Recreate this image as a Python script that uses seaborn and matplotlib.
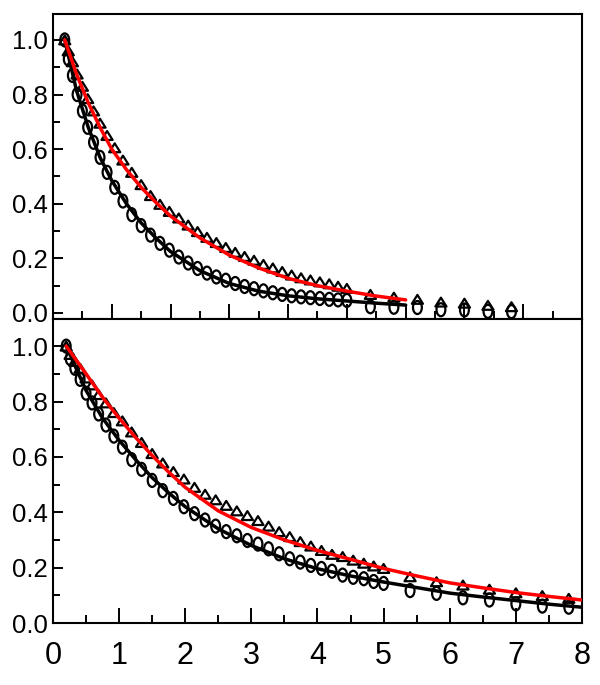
import numpy as np
import pandas as pd
import matplotlib
matplotlib.use('Agg')
import matplotlib.pyplot as plt
from matplotlib.path import Path
from matplotlib.ticker import MultipleLocator, FormatStrFormatter
import seaborn as sns

# sampling times shared by all four data series
x_data = [0.2, 0.26, 0.33, 0.41, 0.5, 0.59, 0.69, 0.8, 0.92, 1.05, 1.19, 1.34, 1.5,
          1.66, 1.82, 1.98, 2.14, 2.30, 2.46, 2.62, 2.78, 2.94, 3.10, 3.26, 3.42,
          3.58, 3.74, 3.90, 4.06, 4.22, 4.38, 4.54, 4.70, 4.85, 5.0,
          5.4, 5.8, 6.2, 6.6, 7.0, 7.4, 7.8]

# top panel
top_circles = [1.0, 0.93, 0.87, 0.80, 0.74, 0.68, 0.625, 0.57, 0.515, 0.46, 0.41, 0.36, 0.32,
               0.285, 0.255, 0.23, 0.205, 0.183, 0.163, 0.146, 0.132, 0.12, 0.108, 0.097, 0.089,
               0.081, 0.074, 0.068, 0.063, 0.059, 0.056, 0.053, 0.05, 0.048, 0.046,
               0.023, 0.021, 0.02, 0.012, 0.011, 0.006, 0.005]
top_triangles = [1.0, 0.96, 0.92, 0.875, 0.83, 0.785, 0.74, 0.695, 0.65, 0.605, 0.56, 0.515, 0.47,
                 0.43, 0.398, 0.372, 0.348, 0.322, 0.298, 0.277, 0.258, 0.24, 0.222, 0.207, 0.193,
                 0.178, 0.165, 0.152, 0.139, 0.129, 0.121, 0.114, 0.107, 0.098, 0.09,
                 0.068, 0.058, 0.05, 0.04, 0.036, 0.028, 0.023]

x_fit_top = [0.2, 0.4, 0.6, 0.8, 1.0, 1.25, 1.5, 1.75, 2.0, 2.5, 3.0, 3.5, 4.0, 4.5, 5.0, 5.5, 6.0]
top_fit_red = [1.0, 0.875, 0.77, 0.68, 0.60, 0.525, 0.46, 0.405, 0.355, 0.275, 0.212, 0.165,
               0.127, 0.10, 0.08, 0.062, 0.048]
top_fit_black = [1.0, 0.815, 0.68, 0.57, 0.485, 0.40, 0.33, 0.275, 0.225, 0.155, 0.108, 0.08,
                 0.063, 0.052, 0.044, 0.036, 0.029]

# bottom panel
bot_circles = [1.0, 0.955, 0.92, 0.88, 0.83, 0.795, 0.755, 0.715, 0.675, 0.635, 0.59, 0.555, 0.515,
               0.478, 0.45, 0.42, 0.395, 0.372, 0.35, 0.33, 0.315, 0.298, 0.285, 0.268, 0.25,
               0.232, 0.22, 0.208, 0.197, 0.187, 0.173, 0.165, 0.16, 0.15, 0.143,
               0.117, 0.107, 0.091, 0.083, 0.069, 0.061, 0.057]
bot_triangles = [1.0, 0.97, 0.945, 0.92, 0.885, 0.86, 0.825, 0.795, 0.76, 0.73, 0.69, 0.652, 0.612,
                 0.578, 0.547, 0.52, 0.49, 0.465, 0.445, 0.425, 0.405, 0.388, 0.37, 0.35, 0.33,
                 0.312, 0.294, 0.278, 0.262, 0.248, 0.24, 0.227, 0.216, 0.206, 0.197,
                 0.167, 0.149, 0.137, 0.122, 0.109, 0.099, 0.089]

x_fit_bot = [0.2, 0.5, 0.75, 1.0, 1.25, 1.5, 1.75, 2.0, 2.5, 3.0, 3.5, 4.0, 4.5, 5.0,
             5.5, 6.0, 6.5, 7.0, 7.5, 8.0]
bot_fit_red = [1.0, 0.90, 0.815, 0.74, 0.67, 0.605, 0.545, 0.49, 0.405, 0.345, 0.30, 0.262,
               0.23, 0.197, 0.17, 0.145, 0.127, 0.11, 0.096, 0.083]
bot_fit_black = [1.0, 0.84, 0.74, 0.66, 0.59, 0.525, 0.47, 0.42, 0.34, 0.28, 0.232, 0.196,
                 0.17, 0.148, 0.128, 0.108, 0.094, 0.081, 0.068, 0.057]

sns.set_style('white')
plt.rcParams['font.family'] = ['Liberation Sans', 'DejaVu Sans']

# tall open ellipse and open triangle markers
circ = Path.unit_circle()
ellipse = Path(circ.vertices * np.array([0.68, 1.0]), circ.codes)
triangle = Path([(-1.0, -0.8), (1.0, -0.8), (0.0, 0.8), (-1.0, -0.8)],
                [Path.MOVETO, Path.LINETO, Path.LINETO, Path.CLOSEPOLY])

fig = plt.figure(figsize=(6, 6.85), dpi=100)
ax1 = fig.add_axes([0.0883, 0.5343, 0.8817, 0.4453])
ax2 = fig.add_axes([0.0883, 0.0905, 0.8817, 0.4438])

panels = [
    (ax1, top_circles, top_triangles, x_fit_top, top_fit_red, top_fit_black, (0, 9), (-0.022, 1.095)),
    (ax2, bot_circles, bot_triangles, x_fit_bot, bot_fit_red, bot_fit_black, (0, 8), (0, 1.098)),
]

for ax, circles, tris, xf, red, black, xlim, ylim in panels:
    pts = pd.DataFrame({'x': x_data, 'circle': circles, 'triangle': tris})
    fit = pd.DataFrame({'x': xf, 'red': red, 'black': black})
    sns.scatterplot(data=pts, x='x', y='triangle', ax=ax, marker=triangle, s=64,
                    color='black', facecolor='none', edgecolor='black', linewidth=1.6, zorder=2)
    sns.scatterplot(data=pts, x='x', y='circle', ax=ax, marker=ellipse, s=88,
                    color='black', facecolor='none', edgecolor='black', linewidth=1.6, zorder=2)
    sns.lineplot(data=fit, x='x', y='black', ax=ax, color='black', lw=2.5, zorder=3)
    sns.lineplot(data=fit, x='x', y='red', ax=ax, color='#ff0000', lw=2.5, zorder=4)

    ax.set_xlim(*xlim)
    ax.set_ylim(*ylim)
    ax.set_xlabel('')
    ax.set_ylabel('')
    ax.xaxis.set_major_locator(MultipleLocator(1))
    ax.xaxis.set_minor_locator(MultipleLocator(0.5))
    ax.yaxis.set_major_locator(MultipleLocator(0.2))
    ax.yaxis.set_minor_locator(MultipleLocator(0.1))
    ax.yaxis.set_major_formatter(FormatStrFormatter('%.1f'))
    ax.tick_params(axis='both', which='both', direction='in', bottom=True, left=True,
                   top=False, right=False, width=1.4, color='black', labelcolor='black')
    ax.tick_params(axis='x', which='major', length=11, labelsize=22, pad=13)
    ax.tick_params(axis='x', which='minor', length=6)
    ax.tick_params(axis='y', which='major', length=7.5, labelsize=18.5, pad=4)
    ax.tick_params(axis='y', which='minor', length=5)
    for sp in ax.spines.values():
        sp.set_linewidth(1.5)
        sp.set_color('black')

ax1.tick_params(axis='x', labelbottom=False)

fig.savefig('out.png', dpi=100, facecolor='white')
